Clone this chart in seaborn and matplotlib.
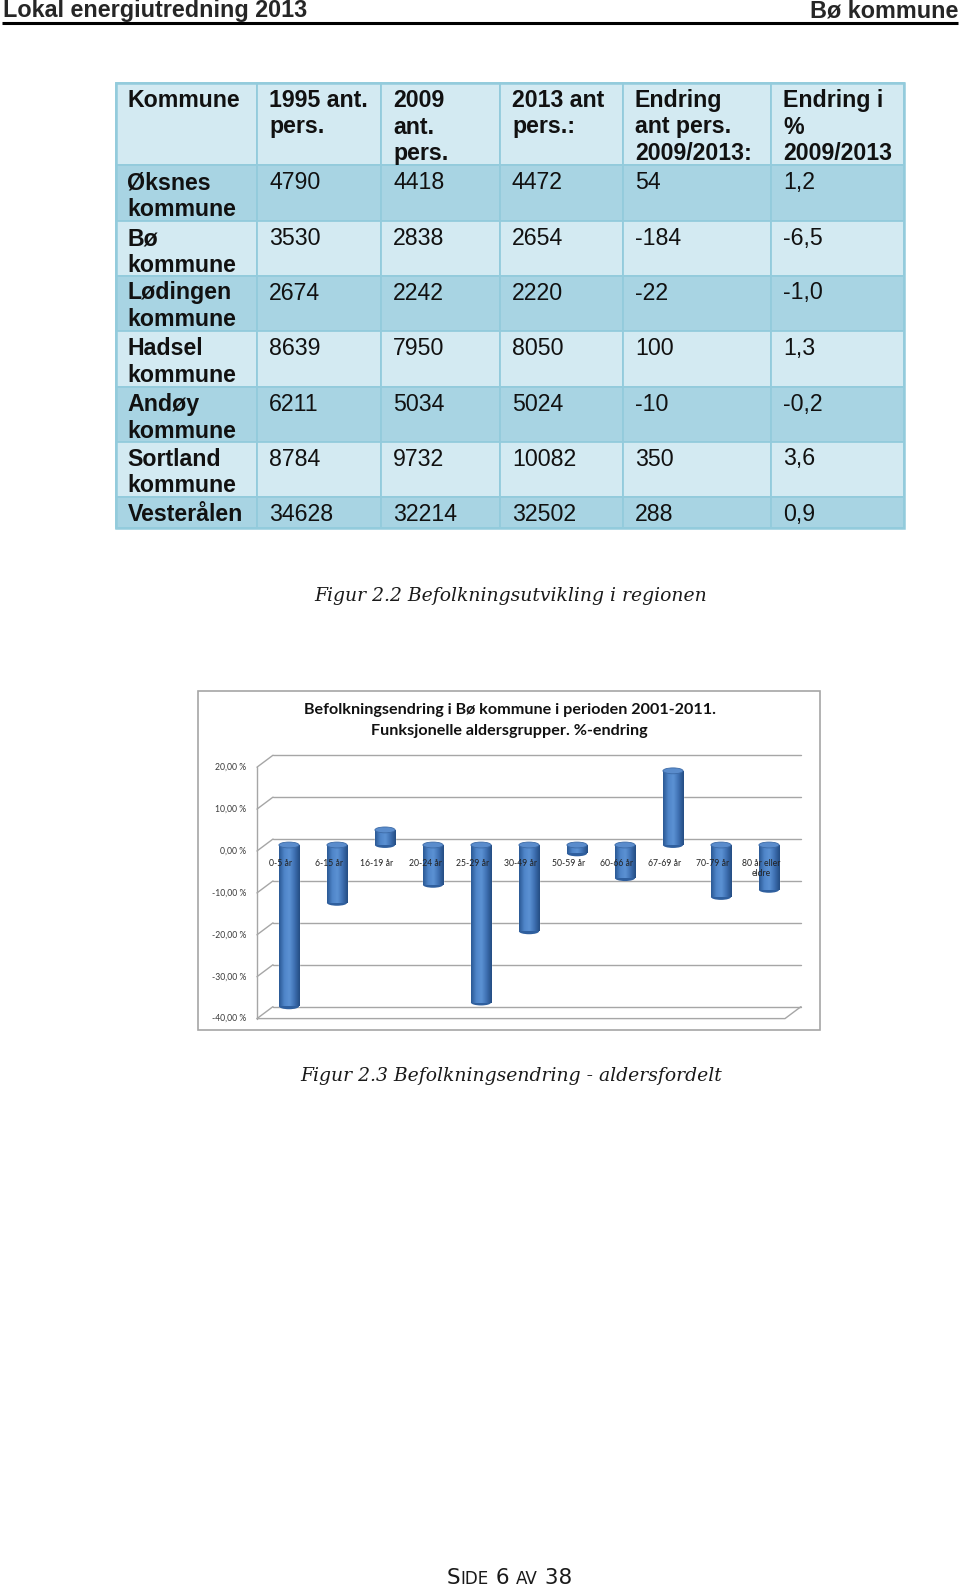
import numpy as np
import pandas as pd
import matplotlib
matplotlib.use("Agg")
import matplotlib.pyplot as plt
import seaborn as sns
from matplotlib.patches import Rectangle, Ellipse
from matplotlib.colors import LinearSegmentedColormap

# ---------------- table data ----------------
headers = ["Kommune", "1995 ant.\npers.", "2009\nant.\npers.", "2013 ant\npers.:",
           "Endring\nant pers.\n2009/2013:", "Endring i\n%\n2009/2013"]
kommuner = ["Øksnes\nkommune", "Bø\nkommune", "Lødingen\nkommune", "Hadsel\nkommune",
            "Andøy\nkommune", "Sortland\nkommune", "Vesterålen"]
pers_1995 = [4790, 3530, 2674, 8639, 6211, 8784, 34628]
pers_2009 = [4418, 2838, 2242, 7950, 5034, 9732, 32214]
pers_2013 = [4472, 2654, 2220, 8050, 5024, 10082, 32502]
endring_ant = [54, -184, -22, 100, -10, 350, 288]
endring_pct = [1.2, -6.5, -1.0, 1.3, -0.2, 3.6, 0.9]

# ---------------- chart data ----------------
aldersgrupper = ["0-5 år", "6-15 år", "16-19 år", "20-24 år", "25-29 år", "30-49 år",
                 "50-59 år", "60-66 år", "67-69 år", "70-79 år", "80 år eller\neldre"]
endring_alder = [-38.5, -13.8, 3.6, -9.5, -37.6, -20.6, -2.0, -7.9, 17.7, -12.4, -10.7]
y_ticks = [20, 10, 0, -10, -20, -30, -40]

chart_title = ["Befolkningsendring i Bø kommune i perioden 2001-2011.",
               "Funksjonelle aldersgrupper. %-endring"]

sns.set_theme(style="white")
plt.rcParams["font.family"] = ["Liberation Sans", "DejaVu Sans"]

W, H = 960, 1588
fig = plt.figure(figsize=(W / 100, H / 100), dpi=100)
fig.patch.set_facecolor("white")

# page axes in pixel units
page = fig.add_axes([0, 0, 1, 1])
page.set_xlim(0, W)
page.set_ylim(H, 0)
page.axis("off")

# ==========================
# Page header
# ==========================
page.text(3, 17.5, "Lokal energiutredning 2013", fontsize=16.8, fontweight="bold", va="baseline")
page.text(958, 17.5, "Bø kommune", fontsize=16.8, fontweight="bold", va="baseline", ha="right")
page.plot([2, 958], [22.5, 22.5], color="black", lw=2.2, solid_capstyle="butt")

# ==========================
# Table
# ==========================
df = pd.DataFrame({
    "kommune": kommuner,
    "p1995": pers_1995,
    "p2009": pers_2009,
    "p2013": pers_2013,
    "ant": endring_ant,
    "pct": [f"{v:.1f}".replace(".", ",") for v in endring_pct],
})

col_edges = [115.5, 257, 381, 500, 623, 771, 904]
row_edges = [83, 165, 221, 275.5, 331, 387, 441.5, 497, 527.6]
light, dark = "#d3eaf2", "#a8d4e3"
line_c = "#93cbdc"

rows = [headers] + [[str(v) for v in r] for r in df.itertuples(index=False)]

for r, cells in enumerate(rows):
    y0, y1 = row_edges[r], row_edges[r + 1]
    fill = dark if r % 2 == 1 else light
    for c, txt in enumerate(cells):
        x0, x1 = col_edges[c], col_edges[c + 1]
        page.add_patch(Rectangle((x0, y0), x1 - x0, y1 - y0, facecolor=fill,
                                 edgecolor=line_c, lw=1.3))
        bold = r == 0 or c == 0
        for k, line in enumerate(txt.split("\n")):
            page.text(x0 + 12, y0 + 24 + k * 26.5, line, fontsize=16.7,
                      fontweight="bold" if bold else "normal", va="baseline", color="#111111")

page.add_patch(Rectangle((col_edges[0], row_edges[0]), col_edges[-1] - col_edges[0],
                         row_edges[-1] - row_edges[0], fill=False, edgecolor=line_c, lw=1.8))

# ==========================
# Captions
# ==========================
cap_kw = dict(family="DejaVu Serif", style="italic", fontsize=13.5, ha="center",
              va="baseline", color="#1a1a1a")
page.text(511, 601, "Figur 2.2 Befolkningsutvikling i regionen", **cap_kw)
page.text(511, 1081, "Figur 2.3 Befolkningsendring - aldersfordelt", **cap_kw)

# chart frame + title
page.add_patch(Rectangle((197.5, 690.5), 622, 339, facecolor="white", edgecolor="#a6a6a6", lw=1.2))
page.text(509.5, 710, chart_title[0], family="Lato", fontweight="bold", fontsize=11.6,
          ha="center", va="center", color="#111111")
page.text(509.5, 731, chart_title[1], family="Lato", fontweight="bold", fontsize=11.6,
          ha="center", va="center", color="#111111")

# ==========================
# Footer
# ==========================
renderer = fig.canvas.get_renderer()
fx = 447
for piece, size in [("S", 15.5), ("IDE", 12.1), (" 6 ", 15.5), ("AV", 12.1), (" 38", 15.5)]:
    t = page.text(fx, 1584, piece, fontsize=size, family="DejaVu Sans", va="baseline",
                  color="#1a1a1a")
    fx += t.get_window_extent(renderer).width

# ==========================
# Bar chart (pseudo 3D)
# ==========================
PX0, PX_STEP = 289, 48      # pixel of first bar, spacing between bars
PY0, PY_STEP = 845, 4.19    # pixel of 0 %, pixels per 1 %
xlim = (-0.75, 10.75)
ylim = (-42, 22)
left_px = PX0 + PX_STEP * xlim[0]
right_px = PX0 + PX_STEP * xlim[1]
top_px = PY0 - PY_STEP * ylim[1]
bottom_px = PY0 - PY_STEP * ylim[0]

ax = fig.add_axes([left_px / W, 1 - bottom_px / H, (right_px - left_px) / W,
                   (bottom_px - top_px) / H])
ax.patch.set_alpha(0)

sns.barplot(x=aldersgrupper, y=endring_alder, color="#3f72b3", saturation=1,
            width=0.42, ax=ax, zorder=3)

DX, DY = 0.167, 1.43        # depth offsets (back = +, front = -)
XW, XE = -0.5, 10.5
grid_c = "#a6a6a6"

for v in y_ticks:
    ax.plot([XW + DX, XE + DX], [v + DY, v + DY], color=grid_c, lw=1, zorder=1)
    ax.plot([XW - DX, XW + DX], [v - DY, v + DY], color=grid_c, lw=1, zorder=1)
    ax.text(XW - DX - 0.23, v - DY, f"{v:.2f} %".replace(".", ","), ha="right",
            va="center", fontsize=6.2, family="Lato", color="#3a3a3a")
ax.plot([XW - DX, XW - DX], [y_ticks[-1] - DY, y_ticks[0] - DY], color=grid_c, lw=1, zorder=1)
ax.plot([XW - DX, XE - DX, XE + DX], [y_ticks[-1] - DY, y_ticks[-1] - DY, y_ticks[-1] + DY],
        color=grid_c, lw=1, zorder=1)

# cylinder shading
cmap = LinearSegmentedColormap.from_list(
    "cyl", ["#2a5894", "#4f85c9", "#5c92d4", "#3e70b2", "#244c82"])
grad = np.linspace(0, 1, 64).reshape(1, -1)
for bar in list(ax.patches):
    x0, w = bar.get_x(), bar.get_width()
    lo = min(bar.get_y(), bar.get_y() + bar.get_height())
    hi = max(bar.get_y(), bar.get_y() + bar.get_height())
    ax.add_patch(Ellipse((x0 + w / 2, lo), w, 1.4, facecolor="#2f5f9e",
                         edgecolor="none", zorder=3.2))
    im = ax.imshow(grad, extent=[x0, x0 + w, lo, hi], aspect="auto", cmap=cmap,
                   zorder=3.5, interpolation="bicubic")
    im.set_clip_path(bar)
    ax.add_patch(Ellipse((x0 + w / 2, hi), w, 1.4, facecolor="#5a8ccc",
                         edgecolor="#3c6aa6", lw=0.6, zorder=4))

# category labels sit on top of the cylinders
for i, lab in enumerate(aldersgrupper):
    ax.text(i - DX, -DY - 1.8, lab, ha="center", va="top", fontsize=6.2, linespacing=1.25,
            family="Lato", color="#222222", zorder=5)

ax.set_xlim(*xlim)
ax.set_ylim(*ylim)
ax.axis("off")

fig.savefig("out.png", dpi=100)
